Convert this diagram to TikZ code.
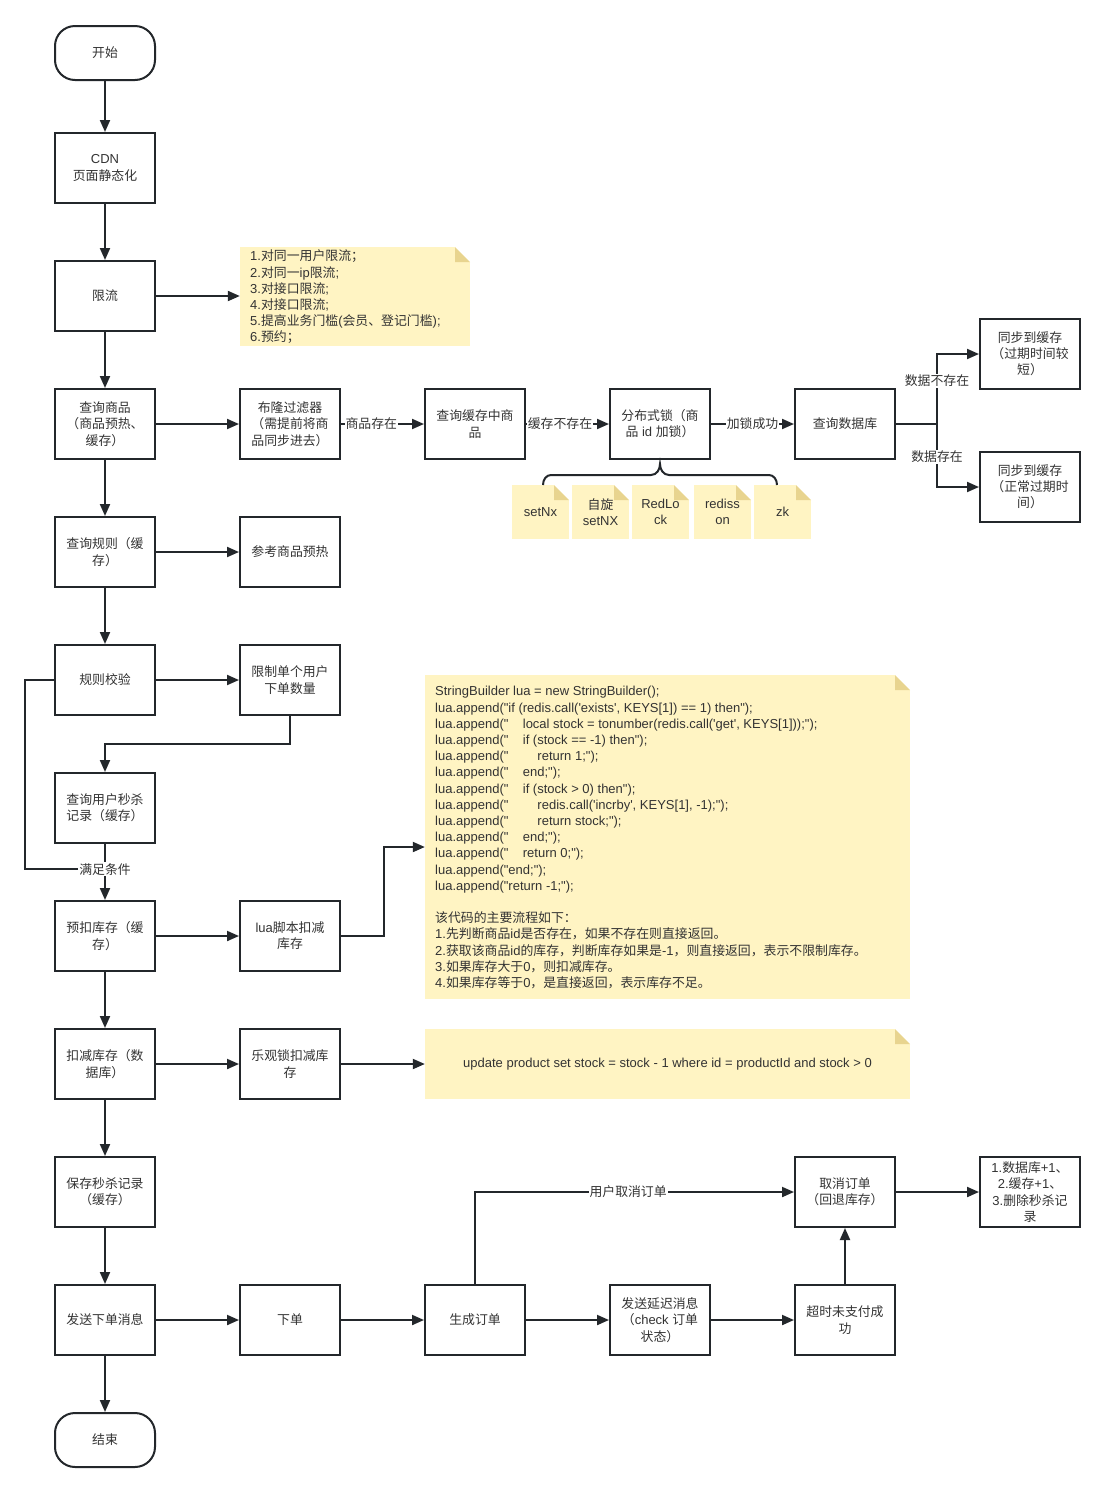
\documentclass[tikz,border=0pt]{standalone}
\usepackage{fontspec}
\setmainfont{Liberation Sans}[Ligatures=TeXOff]
\newfontfamily\cjk[Scale=0.99]{Noto Sans CJK SC}
\usetikzlibrary{arrows.meta}

\newcount\cjkcnt
\newXeTeXintercharclass\CJKcls
\def\setcjkrange#1#2{\cjkcnt=#1 \loop \XeTeXcharclass\cjkcnt=\CJKcls \ifnum\cjkcnt<#2 \advance\cjkcnt by 1 \repeat}
\setcjkrange{"3000}{"303F}
\setcjkrange{"4E00}{"9FFF}
\setcjkrange{"FF00}{"FFEF}
\XeTeXinterchartokenstate=1
\XeTeXinterchartoks 0 \CJKcls = {\cjk}
\XeTeXinterchartoks 4095 \CJKcls = {\cjk}
\XeTeXinterchartoks \CJKcls 0 = {\rmfamily}
\XeTeXinterchartoks \CJKcls 4095 = {\rmfamily}

\definecolor{linec}{HTML}{23272B}
\definecolor{textc}{HTML}{333333}
\definecolor{notef}{HTML}{FFF4C3}
\definecolor{notefold}{HTML}{E8D48F}

\newcommand\luaP{lua.append("}
\newcommand\luaA{\makebox[87.7pt][l]{lua.append("}}
\newcommand\luaB{\makebox[102.3pt][l]{lua.append("}}

\tikzset{
  txt/.style={font=\fontsize{13}{16.2}\selectfont, text=textc},
  box/.style={txt, draw=linec, line width=2pt, fill=white, minimum width=100pt, minimum height=70pt, align=center, inner sep=1pt},
  term/.style={box, minimum height=54pt, rounded corners=20pt},
  wire/.style={draw=linec, line width=2pt},
  arr/.style={wire, -{Triangle[length=12pt,width=10pt]}},
  lbl/.style={txt, fill=white, inner sep=1pt},
  note/.style={fill=notef, draw=none, inner sep=0pt, path picture={
    \fill[white] ([xshift=-15pt]path picture bounding box.north east) -- (path picture bounding box.north east) -- ([yshift=-15pt]path picture bounding box.north east) -- cycle;
    \fill[notefold] ([xshift=-15pt]path picture bounding box.north east) -- ([xshift=-15pt,yshift=-15pt]path picture bounding box.north east) -- ([yshift=-15pt]path picture bounding box.north east) -- cycle;}},
  notetxt/.style={txt, align=left, inner sep=0pt, anchor=north west},
  smallnote/.style={note, txt, align=center, minimum width=57pt, minimum height=54pt},
}

\begin{document}
\begin{tikzpicture}[x=1pt,y=-1pt]
\fill[white] (0,0) rectangle (1105,1492);
\useasboundingbox (0,0) rectangle (1105,1492);

% column 1
\node[term] (start) at (105,53) {开始};
\node[box] (cdn) at (105,168) {CDN\\页面静态化};
\node[box] (lim) at (105,296) {限流};
\node[box] (qp) at (105,424) {查询商品\\（商品预热、\\缓存）};
\node[box] (qr) at (105,552) {查询规则（缓\\存）};
\node[box] (rc) at (105,680) {规则校验};
\node[box] (qu) at (105,808) {查询用户秒杀\\记录（缓存）};
\node[box] (pre) at (105,936) {预扣库存（缓\\存）};
\node[box] (ded) at (105,1064) {扣减库存（数\\据库）};
\node[box] (save) at (105,1192) {保存秒杀记录\\（缓存）};
\node[box] (send) at (105,1320) {发送下单消息};
\node[term] (fin) at (105,1440) {结束};

% column 2
\node[box] (bloom) at (290,424) {布隆过滤器\\（需提前将商\\品同步进去）};
\node[box] (ref) at (290,552) {参考商品预热};
\node[box] (lim1) at (290,680) {限制单个用户\\下单数量};
\node[box] (lua) at (290,936) {lua脚本扣减\\库存};
\node[box] (opt) at (290,1064) {乐观锁扣减库\\存};
\node[box] (ord) at (290,1320) {下单};

% column 3-6
\node[box] (qc) at (475,424) {查询缓存中商\\品};
\node[box] (gen) at (475,1320) {生成订单};
\node[box] (lock) at (660,424) {分布式锁（商\\品 id 加锁）};
\node[box] (delay) at (660,1320) {发送延迟消息\\（check 订单\\状态）};
\node[box] (qdb) at (845,424) {查询数据库};
\node[box] (cancel) at (845,1192) {取消订单\\（回退库存）};
\node[box] (tmo) at (845,1320) {超时未支付成\\功};
\node[box] (sync1) at (1030,354) {同步到缓存\\（过期时间较\\短）};
\node[box] (sync2) at (1030,487) {同步到缓存\\（正常过期时\\间）};
\node[box] (rb) at (1030,1192) {1.数据库+1、\\2.缓存+1、\\3.删除秒杀记\\录};

% notes
\node[note, minimum width=230pt, minimum height=99pt] (n1) at (355,296.5) {};
\node[notetxt] (n1t) at (250,249.4) {\strut 1.对同一用户限流；\\2.对同一ip限流;\\3.对接口限流;\\4.对接口限流;\\5.提高业务门槛(会员、登记门槛);\\6.预约；};

\node[smallnote] (s1) at (540.5,512) {setNx};
\node[smallnote] (s2) at (600.5,512) {自旋\\setNX};
\node[smallnote] (s3) at (660.5,512) {RedLo\\ck};
\node[smallnote] (s4) at (722.5,512) {rediss\\on};
\node[smallnote] (s5) at (782.5,512) {zk};

\node[note, minimum width=485pt, minimum height=324pt] (n2) at (667.5,837) {};
\node[notetxt] (n2t) at (435,684.4) {\strut StringBuilder lua = new StringBuilder();\\
\luaP if (redis.call('exists', KEYS[1]) == 1) then");\\
\luaA local stock = tonumber(redis.call('get', KEYS[1]));");\\
\luaA if (stock == -1) then");\\
\luaB return 1;");\\
\luaA end;");\\
\luaA if (stock > 0) then");\\
\luaB redis.call('incrby', KEYS[1], -1);");\\
\luaB return stock;");\\
\luaA end;");\\
\luaA return 0;");\\
\luaP end;");\\
\luaP return -1;");\\[16.2pt]
该代码的主要流程如下：\\
1.先判断商品id是否存在，如果不存在则直接返回。\\
2.获取该商品id的库存，判断库存如果是-1，则直接返回，表示不限制库存。\\
3.如果库存大于0，则扣减库存。\\
4.如果库存等于0，是直接返回，表示库存不足。};

\node[note, txt, minimum width=485pt, minimum height=70pt] (n3) at (667.5,1064) {update product set stock = stock - 1 where id = productId and stock > 0};

% brace
\coordinate (btip) at ([yshift=-4pt]lock.south);
\draw[wire] (543,485) to[out=90,in=180] (551,475) -- (651,475) to[out=0,in=-90] (btip) to[out=-90,in=180] (669,475) -- (769,475) to[out=0,in=90] (777,485);

% edges column 1
\draw[arr] (start) -- (cdn);
\draw[arr] (cdn) -- (lim);
\draw[arr] (lim) -- (qp);
\draw[arr] (qp) -- (qr);
\draw[arr] (qr) -- (rc);
\coordinate (merge) at (105,869);
\draw[wire] (rc.west) -- (25,680) |- (merge);
\draw[arr] (qu) -- node[lbl,pos=0.45]{满足条件} (pre);
\draw[arr] (pre) -- (ded);
\draw[arr] (ded) -- (save);
\draw[arr] (save) -- (send);
\draw[arr] (send) -- (fin);

% other edges
\draw[arr] (lim.east) -- (lim.east -| n1.west);
\draw[arr] (qp) -- (bloom);
\draw[arr] (bloom) -- node[lbl,pos=0.365]{商品存在} (qc);
\draw[arr] (qc) -- node[lbl,pos=0.41]{缓存不存在} (lock);
\draw[arr] (lock) -- node[lbl]{加锁成功} (qdb);
\coordinate (split) at (937,424);
\draw[wire] (qdb) -- (split);
\draw[arr] (split) |- node[lbl,pos=0.31]{数据不存在} (sync1);
\draw[arr] (split) |- node[lbl,pos=0.26]{数据存在} (sync2);

\draw[arr] (qr) -- (ref);
\draw[arr] (rc) -- (lim1);
\draw[arr] (lim1.south) -- ++(0,28) -| (qu.north);
\draw[arr] (pre) -- (lua);
\draw[arr] (lua.east) -- ++(43,0) |- ([yshift=-10pt]n2.west);
\draw[arr] (ded) -- (opt);
\draw[arr] (opt) -- (n3);

\draw[arr] (send) -- (ord);
\draw[arr] (ord) -- (gen);
\draw[arr] (gen) -- (delay);
\draw[arr] (delay) -- (tmo);
\draw[arr] (tmo) -- (cancel);
\draw[arr] (gen.north) |- node[lbl,pos=0.74]{用户取消订单} (cancel.west);
\draw[arr] (cancel) -- (rb);
\end{tikzpicture}
\end{document}
